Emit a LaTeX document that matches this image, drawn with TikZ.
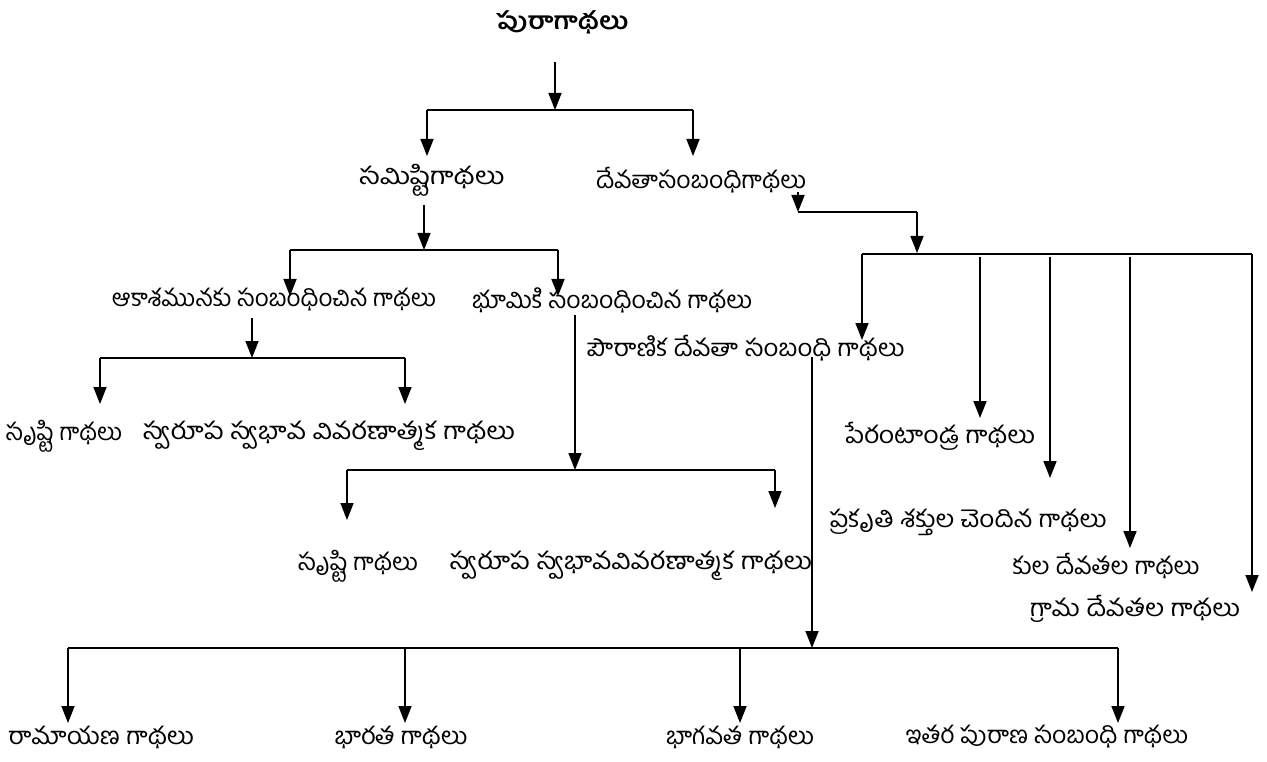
\documentclass[tikz,border=0pt]{standalone}
\usepackage{fontspec}
\usepackage{graphicx}
\newfontfamily\te[Script=Telugu]{Hind Guntur}
\usetikzlibrary{arrows.meta}
\newcommand\fitw[2]{\resizebox{#1pt}{\height}{#2}}
\tikzset{
  lbl/.style={font=\te\fontsize{24}{28}\selectfont, inner sep=0pt, anchor=center},
  ttl/.style={lbl, font=\te\bfseries\fontsize{24}{28}\selectfont},
  conn/.style={line width=1.7pt},
  arr/.style={conn, -{Triangle[width=13pt,length=17pt]}}
}
\begin{document}
\begin{tikzpicture}[x=1pt,y=-1pt]
\useasboundingbox (0,0) rectangle (1267,762);
% nodes
\node[ttl] (n1) at (562,22) {\fitw{132}{పురాగాథలు}};
\node[lbl] (n2) at (432,180) {\fitw{145}{సమిష్టిగాథలు}};
\node[lbl] (n3) at (701,180) {\fitw{210}{దేవతాసంబంధిగాథలు}};
\node[lbl] (n4) at (274,300) {\fitw{324}{ఆకాశమునకు సంబంధించిన గాథలు}};
\node[lbl] (n5) at (612,300) {\fitw{280}{భూమికి సంబంధించిన గాథలు}};
\node[lbl] (n6) at (64,436) {\fitw{116}{సృష్టి గాథలు}};
\node[lbl] (n7) at (329,436) {\fitw{372}{స్వరూప స్వభావ వివరణాత్మక గాథలు}};
\node[lbl] (n8) at (358,566) {\fitw{120}{సృష్టి గాథలు}};
\node[lbl] (n9) at (631,566) {\fitw{362}{స్వరూప స్వభావవివరణాత్మక గాథలు}};
\node[lbl] (n10) at (746,348) {\fitw{317}{పౌరాణిక దేవతా సంబంధి గాథలు}};
\node[lbl] (n11) at (940,436) {\fitw{190}{పేరంటాండ్ర గాథలు}};
\node[lbl] (n12) at (968,522) {\fitw{277}{ప్రకృతి శక్తుల చెందిన గాథలు}};
\node[lbl] (n13) at (1106,566) {\fitw{187}{కుల దేవతల గాథలు}};
\node[lbl] (n14) at (1135,609) {\fitw{210}{గ్రామ దేవతల గాథలు}};
\node[lbl] (n15) at (101,737) {\fitw{186}{రామాయణ గాథలు}};
\node[lbl] (n16) at (401,737) {\fitw{133}{భారత గాథలు}};
\node[lbl] (n17) at (740,737) {\fitw{148}{భాగవత గాథలు}};
\node[lbl] (n18) at (1047,737) {\fitw{282}{ఇతర పురాణ సంబంధి గాథలు}};
% coordinates
\coordinate (a0) at (555,62);  \coordinate (a1) at (555,110);
\coordinate (a2) at (427,110); \coordinate (a3) at (693,110);
\coordinate (a4) at (427,156); \coordinate (a5) at (693,156);
\coordinate (b0) at (424,205); \coordinate (b1) at (424,250);
\coordinate (b2) at (290,250); \coordinate (b3) at (558,250);
\coordinate (b4) at (290,296); \coordinate (b5) at (558,296);
\coordinate (c0) at (252,318); \coordinate (c1) at (252,358);
\coordinate (c2) at (100,358); \coordinate (c3) at (405,358);
\coordinate (c4) at (100,404); \coordinate (c5) at (405,404);
\coordinate (d0) at (575,315); \coordinate (d1) at (575,470);
\coordinate (d2) at (347,470); \coordinate (d3) at (775,470);
\coordinate (d4) at (347,520); \coordinate (d5) at (775,508);
\coordinate (e0) at (798,192); \coordinate (e1) at (798,212);
\coordinate (e2) at (917,212); \coordinate (e3) at (917,253);
\coordinate (f0) at (862,254); \coordinate (f1) at (1252,254);
\coordinate (f2) at (862,340);
\coordinate (g0) at (980,257);  \coordinate (g1) at (980,418);
\coordinate (h0) at (1050,257); \coordinate (h1) at (1050,478);
\coordinate (i0) at (1130,257); \coordinate (i1) at (1130,548);
\coordinate (k1) at (1252,592);
\coordinate (m0) at (812,357); \coordinate (m1) at (812,648);
\coordinate (m2) at (68,648);  \coordinate (m3) at (1118,648);
\coordinate (m4) at (68,723);  \coordinate (m5) at (405,648);
\coordinate (m6) at (405,723); \coordinate (m7) at (740,648);
\coordinate (m8) at (740,723); \coordinate (m9) at (1118,723);
% connectors
\draw[arr] (a0) -- (a1);
\draw[conn] (a2) -- (a3);
\draw[arr] (a2) -- (a4);
\draw[arr] (a3) -- (a5);
\draw[arr] (b0) -- (b1);
\draw[conn] (b2) -- (b3);
\draw[arr] (b2) -- (b4);
\draw[arr] (b3) -- (b5);
\draw[arr] (c0) -- (c1);
\draw[conn] (c2) -- (c3);
\draw[arr] (c2) -- (c4);
\draw[arr] (c3) -- (c5);
\draw[arr] (d0) -- (d1);
\draw[conn] (d2) -- (d3);
\draw[arr] (d2) -- (d4);
\draw[arr] (d3) -- (d5);
\draw[arr] (e0) -- (e1);
\draw[conn] (e1) -- (e2);
\draw[arr] (e2) -- (e3);
\draw[conn] (f0) -- (f1);
\draw[arr] (f0) -- (f2);
\draw[arr] (g0) -- (g1);
\draw[arr] (h0) -- (h1);
\draw[arr] (i0) -- (i1);
\draw[arr] (f1) -- (k1);
\draw[arr] (m0) -- (m1);
\draw[conn] (m2) -- (m3);
\draw[arr] (m2) -- (m4);
\draw[arr] (m5) -- (m6);
\draw[arr] (m7) -- (m8);
\draw[arr] (m3) -- (m9);
\end{tikzpicture}
\end{document}
